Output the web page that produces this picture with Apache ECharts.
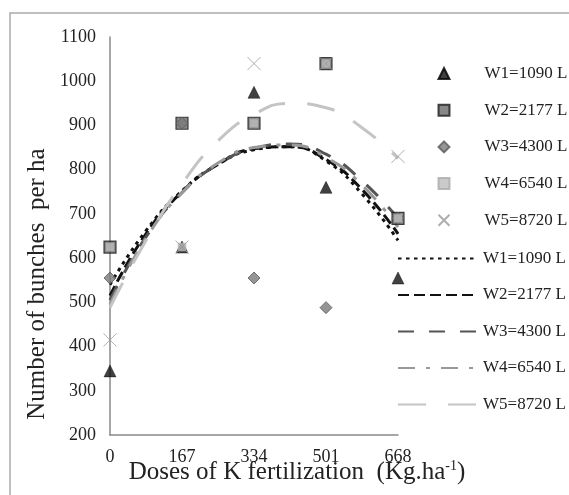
<!DOCTYPE html>
<html>
<head>
<meta charset="utf-8">
<script src="https://cdn.jsdelivr.net/npm/echarts@6/dist/echarts.min.js"></script>
<style>html,body{margin:0;padding:0;background:#fff;}#c{width:569px;height:495px;}</style>
</head>
<body>
<div id="c"></div>
<script>
// ---- data ----
const doses = [0, 167, 334, 501, 668];
const seriesNames = ['W1=1090 L', 'W2=2177 L', 'W3=4300 L', 'W4=6540 L', 'W5=8720 L'];
const w1 = [345, 625, 975, 760, 555];
const w2 = [625, 905, 905, 1040, 690];
const w3 = [555, 905, 555, 488, 690];
const w4 = [625, 625, 905, 1040, 690];
const w5 = [415, 625, 1040, 1040, 830];
// trend curves
const trendDoses = [0, 83.5, 167, 250.5, 334, 417.5, 501, 584.5, 668];
const t1 = [540, 662, 752, 812, 845, 852, 820, 745, 640];
const t2 = [515, 655, 750, 812, 847, 852, 823, 755, 655];
const t3 = [505, 648, 748, 812, 848, 858, 835, 775, 690];
const t4 = [495, 645, 748, 815, 850, 856, 828, 765, 670];
const t5 = [488, 640, 768, 865, 925, 950, 940, 895, 825];
const yTicks = {min: 200, max: 1100, step: 100};
const xTicks = {min: 0, max: 668, step: 167};

const pts = a => doses.map((d, i) => [d, a[i]]);
const tpts = a => trendDoses.map((d, i) => [d, a[i]]);

const FONT = 'Liberation Serif';
const chart = echarts.init(document.getElementById('c'), null, {renderer: 'canvas'});

const scatterStyles = [
  {symbol: 'triangle', symbolSize: 12, itemStyle: {color: '#111', borderColor: '#000', borderWidth: 0.5}},
  {symbol: 'rect', symbolSize: 12, itemStyle: {color: '#6a6a6a', borderColor: '#1a1a1a', borderWidth: 1.2}},
  {symbol: 'diamond', symbolSize: 12, itemStyle: {color: '#7a7a7a', borderColor: '#5a5a5a', borderWidth: 1}},
  {symbol: 'rect', symbolSize: 8, itemStyle: {color: '#bdbdbd', borderColor: '#aaa', borderWidth: 0.5}},
  {symbol: 'path://M0,0L10,10M10,0L0,10', symbolSize: 13, itemStyle: {color: 'none', borderColor: '#9a9a9a', borderWidth: 1}}
];
const lineStyles = [
  {color: '#111', width: 3, type: [3.5, 4.5]},
  {color: '#111', width: 3, type: [11, 5]},
  {color: '#555', width: 3, type: [16, 15]},
  {color: '#999', width: 3, type: [17, 11, 4, 11]},
  {color: '#c4c4c4', width: 3, type: [28, 22]}
];
const scatterData = [w1, w2, w3, w4, w5];
const trendData = [t1, t2, t3, t4, t5];

const series = [];
scatterData.forEach((arr, i) => {
  series.push(Object.assign({
    name: 's' + i,
    type: 'scatter',
    data: pts(arr),
    z: 3
  }, scatterStyles[i]));
});
trendData.forEach((arr, i) => {
  series.push({
    name: 't' + i,
    type: 'line',
    data: tpts(arr),
    smooth: 0.5,
    symbol: 'none',
    showSymbol: false,
    lineStyle: lineStyles[i],
    itemStyle: {color: lineStyles[i].color},
    z: 2
  });
});

const legendText = {fontFamily: FONT, fontSize: 17, color: '#222'};
const option = {
  backgroundColor: '#fff',
  animation: false,
  grid: {left: 110, right: 171, top: 37, bottom: 60, containLabel: false},
  xAxis: {
    type: 'value', min: xTicks.min, max: xTicks.max, interval: xTicks.step,
    axisLine: {show: true, lineStyle: {color: '#8a8a8a', width: 1.5}},
    axisTick: {show: false},
    splitLine: {show: false},
    axisLabel: {fontFamily: FONT, fontSize: 18, color: '#222', margin: 13, formatter: v => String(v)}
  },
  yAxis: {
    type: 'value', min: yTicks.min, max: yTicks.max, interval: yTicks.step,
    axisLine: {show: true, lineStyle: {color: '#8a8a8a', width: 1.5}},
    axisTick: {show: false},
    splitLine: {show: false},
    axisLabel: {fontFamily: FONT, fontSize: 18, color: '#222', margin: 14, formatter: v => String(v)}
  },
  legend: [
    {
      orient: 'vertical', left: 431, top: 60, itemWidth: 11, itemHeight: 11, itemGap: 19.7,
      data: [0, 1, 2, 3, 4].map(i => ({name: 's' + i})),
      formatter: n => seriesNames[+n.slice(1)],
      textStyle: Object.assign({padding: [0, 0, 0, 30]}, legendText), selectedMode: false
    },
    {
      orient: 'vertical', left: 392, top: 245, itemWidth: 80, itemHeight: 11, itemGap: 19.5,
      data: [0, 1, 2, 3, 4].map(i => ({name: 't' + i})),
      itemStyle: {opacity: 0},
      formatter: n => seriesNames[+n.slice(1)],
      textStyle: legendText, selectedMode: false
    }
  ],
  graphic: [
    {type: 'rect', shape: {x: 10, y: 13, width: 620, height: 520}, style: {fill: 'none', stroke: '#aaa', lineWidth: 1.5}, silent: true, z: -1},
    {type: 'text', x: 37, y: 284, rotation: Math.PI / 2,
      style: {text: 'Number of bunches  per ha', fontFamily: FONT, fontSize: 25, fill: '#222', align: 'center', verticalAlign: 'middle'}},
    {type: 'text', x: 297, y: 472,
      style: {
        text: '{a|Doses of K fertilization  (Kg.ha}{s|-1}{a|)}',
        align: 'center', verticalAlign: 'middle',
        rich: {
          a: {fontFamily: FONT, fontSize: 25, fill: '#222', color: '#222'},
          s: {fontFamily: FONT, fontSize: 14, fill: '#222', color: '#222', verticalAlign: 'top', padding: [0, 0, 12, 0]}
        }
      }}
  ],
  series: series
};
chart.setOption(option);
</script>
</body>
</html>
